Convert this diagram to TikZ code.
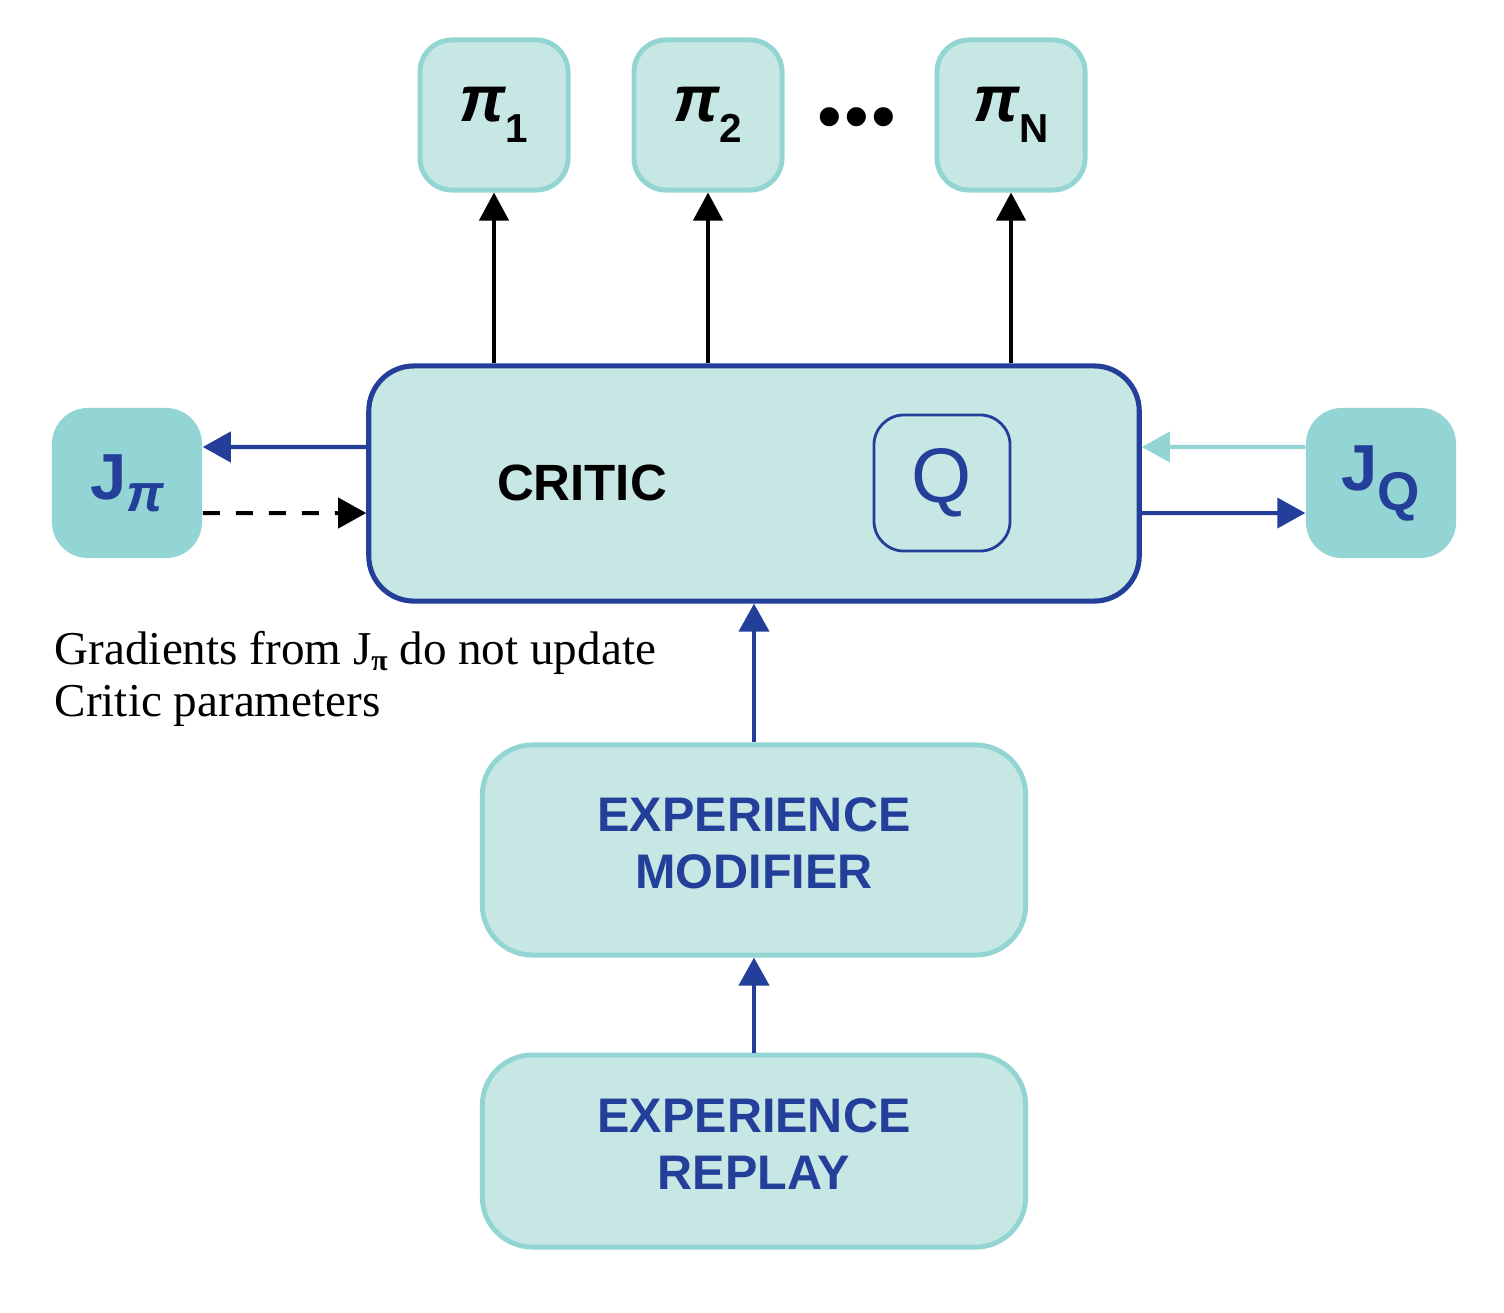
\documentclass[tikz,border=0pt]{standalone}
\usepackage{fontspec}
\setmainfont{Liberation Sans}
\newfontfamily\serifface{Liberation Serif}
\usetikzlibrary{arrows.meta}
\definecolor{tealb}{HTML}{93D5D3}
\definecolor{tealf}{HTML}{C7E7E5}
\definecolor{tealj}{HTML}{92D5D4}
\definecolor{dblue}{HTML}{233F99}
\tikzset{
  pibox/.style={draw=tealb, fill=tealf, line width=1.4pt, rounded corners=0.32cm,
    minimum width=1.48cm, minimum height=1.5cm, inner sep=0pt,
    font=\fontsize{18.5}{18.5}\selectfont\bfseries\itshape},
  critbox/.style={draw=dblue, fill=tealf, line width=1.45pt, rounded corners=0.45cm,
    minimum width=7.7cm, minimum height=2.35cm, inner sep=0pt},
  qbox/.style={draw=dblue, line width=0.8pt, rounded corners=0.3cm,
    minimum width=1.36cm, minimum height=1.36cm, inner sep=0pt, text=dblue},
  jbox/.style={fill=tealj, rounded corners=0.36cm, minimum width=1.5cm,
    minimum height=1.5cm, inner sep=0pt, text=dblue},
  expbox/.style={draw=tealb, fill=tealf, line width=1.4pt, rounded corners=0.5cm,
    minimum width=5.43cm, inner sep=0pt, text=dblue, align=center, text depth=0.14cm,
    font=\fontsize{13.8}{16.3}\selectfont\bfseries},
  blackarr/.style={draw=black, line width=1.2pt, -{Triangle[length=0.28cm,width=0.29cm]}},
  bluearr/.style={draw=dblue, line width=1.15pt, -{Triangle[length=0.28cm,width=0.3cm]}},
  lightarr/.style={draw=tealb, line width=1.15pt, -{Triangle[length=0.28cm,width=0.3cm]}},
  dasharr/.style={draw=black, line width=1.15pt, dash pattern=on 0.17cm off 0.16cm,
    -{Triangle[length=0.28cm,width=0.3cm]}}
}
\newcommand{\pisub}[1]{π\raisebox{-0.21cm}{\fontsize{11.5}{11.5}\selectfont\bfseries\upshape #1}}
\begin{document}
\begin{tikzpicture}[x=0.01cm,y=-0.01cm]
\useasboundingbox (0,0) rectangle (1504,1312);
% policy boxes
\node[pibox] (p1) at (494,115) {\pisub{1}};
\node[pibox] (p2) at (708,115) {\pisub{2}};
\node[pibox] (pN) at (1011,115) {\pisub{N}};
\node[font=\fontsize{20}{20}\selectfont, inner sep=0pt, anchor=base] (dots) at (857,140)
  {\textbullet\kern0.025cm\textbullet\kern0.025cm\textbullet};
% critic
\node[critbox] (critic) at (754,483.5) {};
\node[font=\fontsize{14.5}{14.5}\selectfont\bfseries] (crittext) at (582,483) {CRITIC};
\node[qbox] (q) at (942,483) {\fontsize{22}{22}\selectfont Q};
% J boxes
\node[jbox] (jpi) at (127,483) {\fontsize{18.5}{18.5}\selectfont\bfseries J\raisebox{-0.12cm}{\fontsize{15}{15}\selectfont\itshape π}};
\node[jbox] (jq) at (1381,483) {\fontsize{18.5}{18.5}\selectfont\bfseries J\raisebox{-0.2cm}{\fontsize{15.5}{15.5}\selectfont Q}};
% experience boxes
\node[expbox, minimum height=2.1cm] (mod) at (754,850) {EXPERIENCE\\MODIFIER};
\node[expbox, minimum height=1.92cm] (rep) at (754,1151) {EXPERIENCE\\REPLAY};
% annotation
\node[anchor=north west, align=left, inner sep=0pt,
  font=\serifface\fontsize{13.4}{14.8}\selectfont] (note) at (54,631)
  {Gradients from J\raisebox{-0.06cm}{\fontsize{8.5}{8.5}\selectfont\bfseries π} do not update\\Critic parameters};
% arrows to policies
\draw[blackarr] (p1.south |- critic.north) -- (p1.south);
\draw[blackarr] (p2.south |- critic.north) -- (p2.south);
\draw[blackarr] (pN.south |- critic.north) -- (pN.south);
% J pi arrows
\draw[bluearr] ([yshift=0.365cm]critic.west) -- ([yshift=0.36cm]jpi.east);
\draw[dasharr] ([yshift=-0.3cm]jpi.east) -- ([yshift=-0.295cm]critic.west);
% J Q arrows
\draw[lightarr] ([yshift=0.36cm]jq.west) -- ([yshift=0.365cm]critic.east);
\draw[bluearr] ([yshift=-0.295cm]critic.east) -- ([yshift=-0.3cm]jq.west);
% vertical flow
\draw[bluearr] (mod.north) -- (critic.south);
\draw[bluearr] (rep.north) -- (mod.south);
\end{tikzpicture}
\end{document}
